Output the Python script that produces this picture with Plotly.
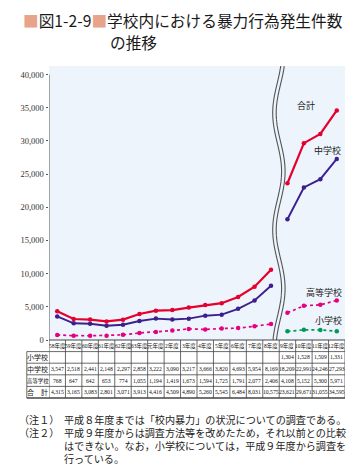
import math
import plotly.graph_objects as go

# ---------------- data ----------------
years = ["58年度", "59年度", "60年度", "61年度", "62年度", "63年度", "元年度", "2年度", "3年度",
         "4年度", "5年度", "6年度", "7年度", "8年度", "9年度", "10年度", "11年度", "12年度"]
elementary = [None, None, None, None, None, None, None, None, None,
              None, None, None, None, None, 1304, 1528, 1509, 1331]
junior_high = [3547, 2518, 2441, 2148, 2297, 2858, 3222, 3090, 3217,
               3666, 3820, 4693, 5954, 8169, 18209, 22991, 24246, 27293]
high_school = [768, 647, 642, 653, 774, 1055, 1194, 1419, 1673,
               1594, 1725, 1791, 2077, 2406, 4108, 5152, 5300, 5971]
total = [4315, 3165, 3083, 2801, 3071, 3913, 4416, 4509, 4890,
         5260, 5545, 6484, 8031, 10575, 23621, 29671, 31055, 34595]
row_labels = ["小学校", "中学校", "高等学校", "合　計"]
y_tick_values = [0, 5000, 10000, 15000, 20000, 25000, 30000, 35000, 40000]
break_at = 14  # first year of the revised survey (平成9年度)

# ---------------- geometry helpers ----------------
W, H = 364, 472
L, R, T, B = 37.5, 337.5, 58, 332          # plot area in pixels
YMAX = 41300
n = len(years)
colw = (R - L) / n


def px_x(px):      # pixel -> paper x
    return (px - L) / (R - L)


def px_y(py):      # pixel -> paper y
    return (B - py) / (B - T)


def data_x(px):
    return (px - L) / colw - 0.5


def data_y(py):
    return (B - py) * YMAX / (B - T)


fig = go.Figure()

series = [
    ("高等学校", high_school, "#e4007f", "dot", 1.7, 4.5),
    ("小学校", elementary, "#00995a", "dot", 1.7, 4.5),
    ("中学校", junior_high, "#3b1f8c", "solid", 1.9, 4.5),
    ("合計", total, "#e6002d", "solid", 2.2, 4.5),
]
xs = list(range(n))
for name, vals, color, dash, w, ms in series:
    for seg in (slice(0, break_at), slice(break_at, n)):
        sx = xs[seg]
        sy = vals[seg]
        if all(v is None for v in sy):
            continue
        fig.add_trace(go.Scatter(
            x=sx, y=sy, mode="lines+markers", name=name, showlegend=False,
            line=dict(color=color, width=w, dash=dash),
            marker=dict(color=color, size=ms),
            hoverinfo="skip", cliponaxis=False,
        ))

shapes = []
# y axis line
shapes.append(dict(type="line", xref="x", yref="y", x0=-0.5, x1=-0.5, y0=0, y1=40000,
                   line=dict(color="#555", width=1)))

# break squiggle (double wavy line)
pts = []
py = T
while py <= B + 0.01:
    pxv = 270.5 - 4.5 * math.cos(2 * math.pi * (py - 105) / 117)
    pts.append((data_x(pxv), data_y(py)))
    py += 2
path = "M " + " L ".join(f"{x:.4f},{y:.1f}" for x, y in pts)
shapes.append(dict(type="path", xref="x", yref="y", path=path,
                   line=dict(color="#555", width=4.6), layer="above"))
shapes.append(dict(type="path", xref="x", yref="y", path=path,
                   line=dict(color="#edf4fc", width=2.4), layer="above"))

# table grid
row_edges = [332, 343.6, 355.2, 366.8, 378.4, 390]
lab_left = 15
shapes.append(dict(type="line", xref="paper", yref="paper", x0=0, x1=1,
                   y0=px_y(row_edges[0]), y1=px_y(row_edges[0]),
                   line=dict(color="#444", width=1)))
for i, e in enumerate(row_edges[1:]):
    shapes.append(dict(type="line", xref="paper", yref="paper", x0=px_x(lab_left), x1=1,
                       y0=px_y(e), y1=px_y(e),
                       line=dict(color="#444", width=1.4 if i == len(row_edges) - 2 else 0.8)))
shapes.append(dict(type="line", xref="paper", yref="paper", x0=px_x(lab_left), x1=px_x(lab_left),
                   y0=px_y(row_edges[1]), y1=px_y(row_edges[-1]),
                   line=dict(color="#444", width=0.8)))
for i in range(n + 1):
    shapes.append(dict(type="line", xref="x", yref="paper", x0=i - 0.5, x1=i - 0.5,
                       y0=px_y(row_edges[0]), y1=px_y(row_edges[-1]),
                       line=dict(color="#444", width=0.8)))

annotations = []
tbl_font = "Liberation Serif, Noto Sans CJK JP"
hy = (row_edges[0] + row_edges[1]) / 2
for i, yr in enumerate(years):
    annotations.append(dict(x=i, y=px_y(hy), xref="x", yref="paper", text=yr, showarrow=False,
                            font=dict(family=tbl_font, size=5.5, color="#111"),
                            xanchor="center", yanchor="middle"))
rows = [elementary, junior_high, high_school, total]
for r, (lab, vals) in enumerate(zip(row_labels, rows)):
    cy = (row_edges[r + 1] + row_edges[r + 2]) / 2
    annotations.append(dict(x=px_x(lab_left + 11.25), y=px_y(cy), xref="paper", yref="paper",
                            text=lab, showarrow=False,
                            font=dict(family="Noto Sans CJK JP", size=5.4 if len(lab) == 4 else 7,
                                      color="#111"),
                            xanchor="center", yanchor="middle"))
    for i, v in enumerate(vals):
        if v is None:
            continue
        annotations.append(dict(x=i, y=px_y(cy), xref="x", yref="paper", text=f"{v:,}",
                                showarrow=False,
                                font=dict(family="Liberation Serif", size=5.7, color="#111"),
                                xanchor="center", yanchor="middle"))

# series labels
lab_font = dict(family="Noto Sans CJK JP", size=9, color="#222")
for text, px, pyv in [("合計", 298, 97), ("中学校", 320, 142), ("高等学校", 316, 284), ("小学校", 321, 312)]:
    annotations.append(dict(x=data_x(px), y=data_y(pyv), xref="x", yref="y", text=text,
                            showarrow=False, font=lab_font, xanchor="center", yanchor="middle"))

# title
sq = '<span style="color:#e8a48a">■</span>'
title_font = dict(family="Noto Sans CJK JP", size=15.7, color="#1a1a1a")
annotations.append(dict(x=px_x(9), y=px_y(12), xref="paper", yref="paper",
                        text=f"{sq}図1-2-9{sq}学校内における暴力行為発生件数",
                        showarrow=False, xanchor="left", yanchor="middle", font=title_font))
annotations.append(dict(x=px_x(97), y=px_y(34), xref="paper", yref="paper",
                        text="の推移", showarrow=False, xanchor="left", yanchor="middle",
                        font=title_font))

# notes
note_font = dict(family="Noto Sans CJK JP", size=10.1, color="#222")
note_labels = ["（注１）", "（注２）"]
note_lines = [
    "平成８年度までは「校内暴力」の状況についての調査である。",
    "平成９年度からは調査方法等を改めたため，それ以前との比較",
    "はできない。なお，小学校については，平成９年度から調査を",
    "行っている。",
]
note_top = 403
annotations.append(dict(x=px_x(6), y=px_y(note_top), xref="paper", yref="paper",
                        text="<br>".join(note_labels), showarrow=False, borderpad=0,
                        xanchor="left", yanchor="top", align="left", font=note_font))
annotations.append(dict(x=px_x(52), y=px_y(note_top), xref="paper", yref="paper",
                        text="<br>".join(note_lines), showarrow=False, borderpad=0,
                        xanchor="left", yanchor="top", align="left", font=note_font))

fig.update_layout(
    width=W, height=H,
    margin=dict(l=L, r=W - R, t=T, b=H - B, pad=0),
    paper_bgcolor="white", plot_bgcolor="#edf4fc",
    showlegend=False,
    shapes=shapes, annotations=annotations,
    xaxis=dict(range=[-0.5, n - 0.5], showgrid=False, zeroline=False, showline=False,
               showticklabels=False, ticks="", fixedrange=True),
    yaxis=dict(range=[0, YMAX], showgrid=False, zeroline=False, showline=False,
               tickvals=y_tick_values, ticktext=[f"{v:,}" for v in y_tick_values],
               ticks="outside", ticklen=2.5, tickcolor="#555", tickwidth=1,
               tickfont=dict(family="Liberation Serif", size=8.5, color="#333"),
               fixedrange=True),
)

fig.write_html("out.html")
